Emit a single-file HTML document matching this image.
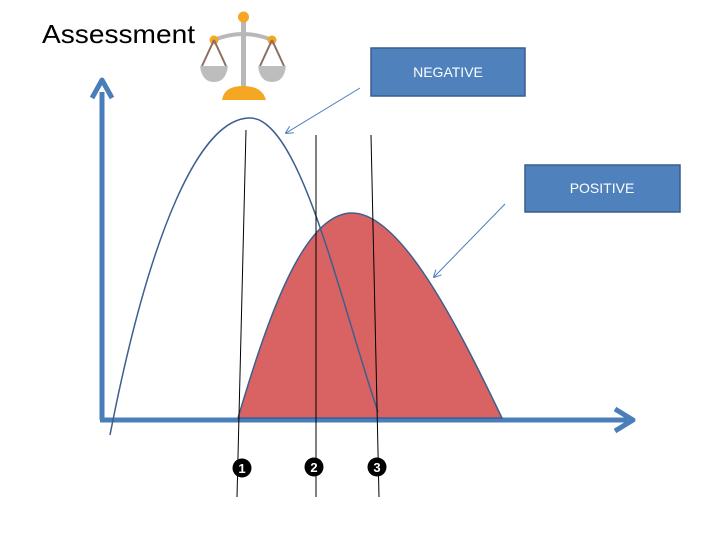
<!DOCTYPE html>
<html><head><style>body{margin:0;background:#fff}svg{display:block}</style></head><body>
<svg width="720" height="540" viewBox="0 0 720 540" xmlns="http://www.w3.org/2000/svg">
<defs>
<marker id="a" markerWidth="8" markerHeight="8" refX="7" refY="4" orient="auto" markerUnits="userSpaceOnUse"><path d="M0,0 L8,4 L0,8" fill="none" stroke="#4a7ebb" stroke-width="1"/></marker>
</defs>
<text x="42" y="43" font-family="Liberation Sans, sans-serif" font-size="26" fill="#000" textLength="153" lengthAdjust="spacingAndGlyphs">Assessment</text>
<!-- scales icon -->
<g>
<rect x="241" y="20" width="5" height="70" fill="#b8b8b8"/>
<path d="M214,40 Q243,28 272,40" fill="none" stroke="#b8b8b8" stroke-width="4"/>
<circle cx="243.5" cy="17" r="5.5" fill="#f5a623"/>
<circle cx="214" cy="40" r="4.5" fill="#f5a623"/>
<circle cx="272" cy="40" r="4.5" fill="#f5a623"/>
<path d="M214,40 L202,66 M214,40 L226,66 M272,40 L260,66 M272,40 L284,66" stroke="#8d6e63" stroke-width="2"/>
<path d="M200,66 L228,66 Q226,82 214,82 Q202,82 200,66 Z" fill="#bdbdbd"/>
<path d="M258,66 L286,66 Q284,82 272,82 Q260,82 258,66 Z" fill="#bdbdbd"/>
<path d="M222,100 Q224,86 243,86 Q262,86 266,100 Z" fill="#f5a623"/>
</g>
<!-- axes -->
<line x1="102" y1="420" x2="102" y2="92" stroke="#4a7ebb" stroke-width="5"/>
<path d="M92,98 L102,80 L112,98" fill="none" stroke="#4a7ebb" stroke-width="5" stroke-linejoin="round"/>
<line x1="100" y1="420" x2="628" y2="420" stroke="#4a7ebb" stroke-width="5"/>
<path d="M615,409 L633,420 L615,431" fill="none" stroke="#4a7ebb" stroke-width="5" stroke-linejoin="round"/>
<!-- red curve -->
<path d="M238,418 C270,310 305,213 352,213 C400,213 455,320 502,418 Z" fill="#d96363" stroke="#3d5f8e" stroke-width="1.5"/>
<!-- blue curve -->
<path d="M110,435 C150,230 200,118 250,118 C300,118 340,300 378,412" fill="none" stroke="#3d5f8e" stroke-width="1.5"/>
<!-- vertical lines -->
<line x1="246" y1="130" x2="237" y2="497" stroke="#000" stroke-width="1"/>
<line x1="316" y1="135" x2="316" y2="497" stroke="#000" stroke-width="1"/>
<line x1="371" y1="135" x2="379" y2="497" stroke="#000" stroke-width="1"/>
<g font-family="Liberation Sans, sans-serif" font-size="13" font-weight="bold" fill="#fff" text-anchor="middle">
<circle cx="242" cy="468" r="9.5" fill="#000"/><text x="242" y="473">1</text>
<circle cx="314" cy="467" r="9.5" fill="#000"/><text x="314" y="472">2</text>
<circle cx="377" cy="467" r="9.5" fill="#000"/><text x="377" y="472">3</text>
</g>
<!-- boxes -->
<rect x="371" y="48" width="154" height="48" fill="#4f81bd" stroke="#385d8a" stroke-width="1.5"/>
<text x="448" y="77" font-family="Liberation Sans, sans-serif" font-size="14" fill="#fff" text-anchor="middle">NEGATIVE</text>
<rect x="525" y="165" width="155" height="47" fill="#4f81bd" stroke="#385d8a" stroke-width="1.5"/>
<text x="602" y="193" font-family="Liberation Sans, sans-serif" font-size="14" fill="#fff" text-anchor="middle">POSITIVE</text>
<line x1="360" y1="88" x2="286" y2="133" stroke="#4a7ebb" stroke-width="1" marker-end="url(#a)"/>
<line x1="505" y1="204" x2="434" y2="277" stroke="#4a7ebb" stroke-width="1" marker-end="url(#a)"/>
</svg>
</body></html>
